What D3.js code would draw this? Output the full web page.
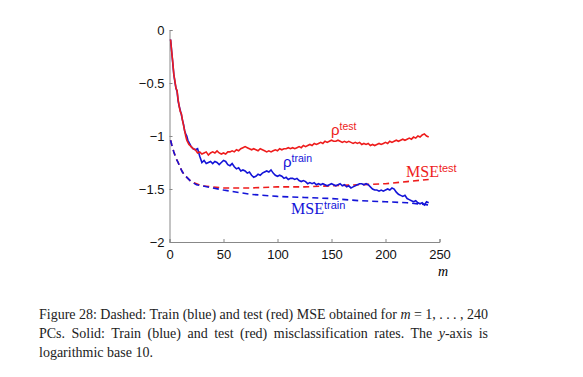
<!DOCTYPE html>
<html>
<head>
<meta charset="utf-8">
<script src="https://cdn.jsdelivr.net/npm/d3@7"></script>
<style>
  body { margin: 0; background: #fff; }
  svg { display: block; }
</style>
</head>
<body>
<svg id="chart" width="583" height="377"></svg>
<script>
// misclassification rates (solid), log10
var rhoTestM = [1,2,3,4,5,6,7,8,9,10,11,12,13,14,15,16,17,18,19,20,22,24,26,28,30,32,34,36,38,40,42,44,46,48,50,52,54,56,58,60,62,64,66,68,70,72,74,76,78,80,82,84,86,88,90,92,94,96,98,100,102,104,106,108,110,112,114,116,118,120,122,124,126,128,130,132,134,136,138,140,142,144,146,148,150,152,154,156,158,160,162,164,166,168,170,172,174,176,178,180,182,184,186,188,190,192,194,196,198,200,202,204,206,208,210,212,214,216,218,220,222,224,226,228,230,232,234,236,238,240];
var rhoTest = [-0.09,-0.2,-0.3,-0.42,-0.48,-0.55,-0.57,-0.66,-0.72,-0.77,-0.79,-0.85,-0.9,-0.95,-1.0,-1.04,-1.06,-1.08,-1.09,-1.1,-1.12,-1.13,-1.16,-1.15,-1.17,-1.16,-1.15,-1.18,-1.16,-1.15,-1.16,-1.14,-1.16,-1.17,-1.16,-1.17,-1.15,-1.15,-1.14,-1.15,-1.13,-1.14,-1.12,-1.11,-1.10,-1.11,-1.12,-1.13,-1.12,-1.13,-1.14,-1.12,-1.13,-1.14,-1.15,-1.14,-1.15,-1.14,-1.13,-1.14,-1.12,-1.13,-1.12,-1.12,-1.11,-1.12,-1.11,-1.12,-1.11,-1.10,-1.11,-1.09,-1.10,-1.09,-1.08,-1.09,-1.07,-1.08,-1.07,-1.06,-1.07,-1.05,-1.06,-1.05,-1.04,-1.05,-1.05,-1.04,-1.05,-1.06,-1.05,-1.06,-1.05,-1.06,-1.07,-1.06,-1.07,-1.06,-1.08,-1.07,-1.08,-1.07,-1.09,-1.08,-1.09,-1.08,-1.07,-1.08,-1.07,-1.06,-1.07,-1.05,-1.06,-1.05,-1.04,-1.05,-1.04,-1.03,-1.04,-1.03,-1.02,-1.03,-1.01,-1.02,-1.00,-1.01,-0.99,-0.98,-1.0,-1.01];

var rhoTrainM = rhoTestM;
var rhoTrain = [-0.09,-0.2,-0.31,-0.42,-0.49,-0.55,-0.58,-0.67,-0.72,-0.76,-0.8,-0.85,-0.89,-0.95,-0.98,-1.0,-1.04,-1.06,-1.08,-1.1,-1.12,-1.13,-1.12,-1.19,-1.25,-1.23,-1.26,-1.25,-1.24,-1.26,-1.24,-1.25,-1.27,-1.25,-1.23,-1.24,-1.27,-1.28,-1.26,-1.29,-1.31,-1.30,-1.33,-1.32,-1.33,-1.35,-1.34,-1.37,-1.39,-1.38,-1.36,-1.37,-1.35,-1.34,-1.33,-1.34,-1.32,-1.35,-1.37,-1.38,-1.37,-1.38,-1.40,-1.39,-1.41,-1.40,-1.40,-1.41,-1.40,-1.42,-1.43,-1.42,-1.43,-1.45,-1.44,-1.45,-1.44,-1.46,-1.45,-1.46,-1.45,-1.46,-1.47,-1.46,-1.45,-1.46,-1.47,-1.46,-1.45,-1.47,-1.46,-1.48,-1.47,-1.49,-1.48,-1.47,-1.46,-1.45,-1.45,-1.46,-1.45,-1.46,-1.48,-1.50,-1.51,-1.51,-1.52,-1.51,-1.52,-1.51,-1.50,-1.51,-1.49,-1.50,-1.53,-1.55,-1.56,-1.57,-1.56,-1.59,-1.60,-1.61,-1.62,-1.61,-1.63,-1.64,-1.63,-1.65,-1.62,-1.63];

// MSE (dashed), log10
var mseM = [1,2,4,6,8,10,12,14,17,20,25,30,40,50,75,100,125,150,175,200,220,240];
var mseTest = [-1.04,-1.08,-1.15,-1.21,-1.25,-1.30,-1.34,-1.37,-1.40,-1.43,-1.45,-1.47,-1.48,-1.49,-1.49,-1.48,-1.48,-1.47,-1.46,-1.45,-1.43,-1.41];
var mseTrain = [-1.04,-1.08,-1.15,-1.21,-1.25,-1.30,-1.34,-1.37,-1.40,-1.43,-1.46,-1.47,-1.49,-1.51,-1.55,-1.57,-1.58,-1.59,-1.61,-1.62,-1.63,-1.65];

var xTicks = [0, 50, 100, 150, 200, 250];
var yTicks = [0, -0.5, -1, -1.5, -2];

var RED = "#ee1c1c", BLUE = "#1414d8";

var svg = d3.select("#chart");
var x = d3.scaleLinear().domain([0, 250]).range([169.5, 439.5]);
var y = d3.scaleLinear().domain([-2, 0]).range([242, 30]);

var fmt = function(d){ return d === 0 ? "0" : String(d).replace("-", "\u2212"); };

// axes
var gx = svg.append("g").attr("transform", "translate(0," + y(-2) + ")")
  .call(d3.axisBottom(x).tickValues(xTicks).tickSize(-3).tickPadding(5).tickFormat(fmt));
var gy = svg.append("g").attr("transform", "translate(" + x(0) + ",0)")
  .call(d3.axisLeft(y).tickValues(yTicks).tickSize(-3).tickPadding(5).tickFormat(fmt));

[gx, gy].forEach(function(g){
  g.select(".domain").attr("stroke", "#888").attr("stroke-width", 1);
  g.selectAll(".tick line").attr("stroke", "#888");
  g.selectAll(".tick text").attr("fill", "#111")
    .style("font-family", "'Liberation Sans', Arial, sans-serif").style("font-size", "13px");
});
gx.selectAll(".tick text").attr("dy", "0.9em");

// lines
var line = d3.line().x(function(d){ return x(d[0]); }).y(function(d){ return y(d[1]); });
function pairs(ms, vs){ return ms.map(function(m, i){ return [m, vs[i]]; }); }

svg.append("path").datum(pairs(mseM, mseTest))
  .attr("d", line).attr("fill", "none").attr("stroke", RED).attr("stroke-width", 1.6)
  .attr("stroke-dasharray", "6,4");
svg.append("path").datum(pairs(mseM, mseTrain))
  .attr("d", line).attr("fill", "none").attr("stroke", BLUE).attr("stroke-width", 1.6)
  .attr("stroke-dasharray", "6,4");
svg.append("path").datum(pairs(rhoTrainM, rhoTrain))
  .attr("d", line).attr("fill", "none").attr("stroke", BLUE).attr("stroke-width", 1.6);
svg.append("path").datum(pairs(rhoTestM, rhoTest))
  .attr("d", line).attr("fill", "none").attr("stroke", RED).attr("stroke-width", 1.6);

// curve labels
function label(px, py, base, sup, color, serif){
  var t = svg.append("text").attr("x", px).attr("y", py).attr("fill", color)
    .style("font-family", serif ? "'Liberation Serif', 'Times New Roman', serif" : "'Liberation Sans', Arial, sans-serif")
    .style("font-size", serif ? "16px" : "15px");
  t.append("tspan").text(base);
  t.append("tspan").attr("dy", -5).style("font-size", serif ? "11px" : "10.5px")
    .style("font-family", "'Liberation Sans', Arial, sans-serif").text(sup);
}
label(331, 135, "\u03c1", "test", RED, false);
label(283, 167, "\u03c1", "train", BLUE, false);
label(406, 177, "MSE", "test", RED, true);
label(291, 214, "MSE", "train", BLUE, true);

svg.append("text").attr("x", 438).attr("y", 276).text("m")
  .style("font-family", "'Liberation Serif', serif").style("font-style", "italic").style("font-size", "14px");

// caption, lines 1-2 justified to the same width via word-spacing
var cap = svg.append("g").style("font-family", "'Liberation Serif', 'Times New Roman', serif")
  .style("font-size", "14px").attr("fill", "#222");
function justify(t, width){
  var n = t.text().split(" ").length - 1;
  var w = t.node().getComputedTextLength();
  t.style("word-spacing", ((width - w) / n) + "px");
}
var l1 = cap.append("text").attr("x", 39).attr("y", 319);
l1.append("tspan").text("Figure 28: Dashed: Train (blue) and test (red) MSE obtained for ");
l1.append("tspan").style("font-style", "italic").text("m");
l1.append("tspan").text(" = 1, . . . , 240");
justify(l1, 449);
var l2 = cap.append("text").attr("x", 39).attr("y", 338);
l2.append("tspan").text("PCs. Solid: Train (blue) and test (red) misclassification rates. The ");
l2.append("tspan").style("font-style", "italic").text("y");
l2.append("tspan").text("-axis is");
justify(l2, 449);
cap.append("text").attr("x", 39).attr("y", 357).text("logarithmic base 10.");
</script>
</body>
</html>
